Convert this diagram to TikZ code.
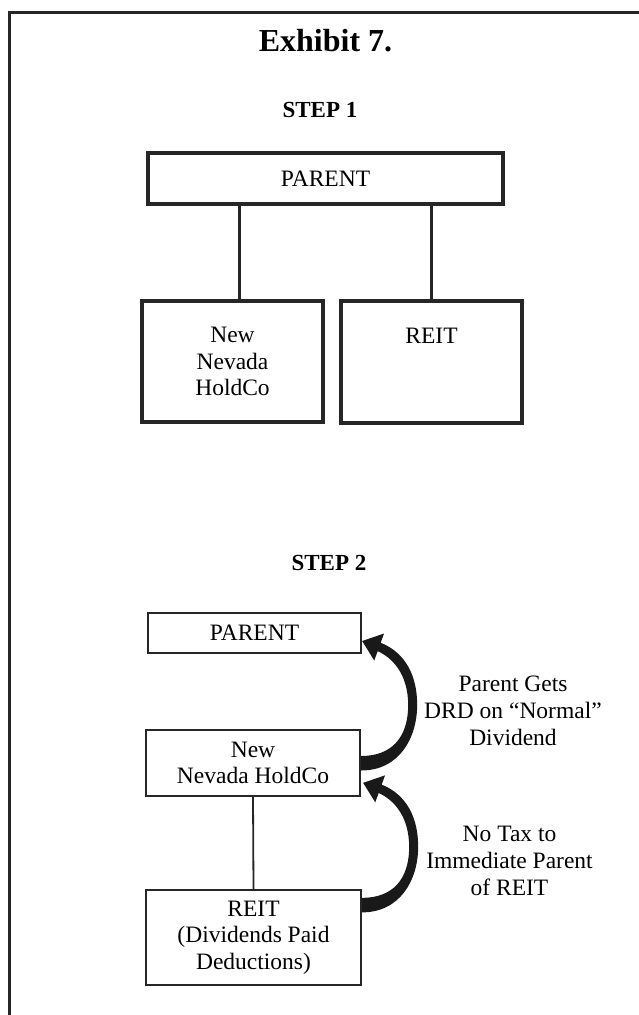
\documentclass[tikz,border=0pt]{standalone}
\usepackage{fontspec}
\setmainfont{Liberation Serif}
\newcommand{\bodyfont}{\fontsize{23.5}{26.7}\selectfont}
\tikzset{
  box/.style      = {shape=rectangle, draw=black!85, align=center,
                     inner sep=0pt, font=\bodyfont},
  bigbox/.style   = {box, line width=3.1pt},
  smallbox/.style = {box, line width=2.3pt},
  stephead/.style = {font=\fontsize{23}{26}\selectfont\bfseries},
  note/.style     = {align=center, font=\bodyfont},
  swoosh/.pic     = {
    \fill[black!90] (0,7.5) .. controls (38,7.5) and (56,-25) .. (56,-58)
      .. controls (56,-95) and (38,-113) .. (19.5,-120.2)
      -- (22.9,-129.5) -- (1,-122) -- (13.1,-102.5) -- (16.5,-111.8)
      .. controls (30,-106) and (47,-90) .. (47,-58)
      .. controls (47,-25) and (30,-7) .. (0,-7) -- cycle;
  }
}

\begin{document}
\begin{tikzpicture}[x=1pt, y=-1pt]
  \useasboundingbox (0,0) rectangle (639,1015);
  \clip (0,0) rectangle (639,1015);
  \draw[line width=3pt, black!85] (9,1040) |- (660,12);

  \node[font=\fontsize{32}{36}\selectfont\bfseries] (title) at (325.5,41) {Exhibit 7.};

  % step 1
  \node[stephead] (step1) at (320,110) {STEP 1};
  \node[bigbox, minimum width=355, minimum height=51] (parent1) at (325.5,178.5) {PARENT};
  \node[bigbox, minimum width=181, minimum height=121] (nnh1) at (232.5,361.5) {New\\Nevada\\HoldCo};
  \node[bigbox, minimum width=181, minimum height=122] (reit1) at (431.5,362) {REIT\\~\\~};
  \draw[line width=3pt, black!85] ([xshift=6.5pt]nnh1.north) -- ([xshift=6.5pt]nnh1.north |- parent1.south);
  \draw[line width=3pt, black!85] (reit1.north) -- (reit1.north |- parent1.south);

  % step 2
  \node[stephead] (step2) at (329,563) {STEP 2};
  \node[smallbox, minimum width=213, minimum height=40] (parent2) at (254.5,633) {PARENT};
  \node[smallbox, minimum width=214, minimum height=66] (nnh2) at (253,763) {New\\Nevada HoldCo};
  \node[smallbox, minimum width=215, minimum height=95] (reit2) at (253.5,937.5) {REIT\\(Dividends Paid\\Deductions)};
  \draw[line width=1.8pt, black!85] (nnh2.south) -- (reit2.north);

  \pic at (nnh2.east) {swoosh};
  \pic at ([yshift=-16pt]reit2.north east) {swoosh};

  \node[note] (note1) at (513,711) {Parent Gets\\DRD on “Normal”\\Dividend};
  \node[note] (note2) at (509.5,861) {No Tax to\\Immediate Parent\\of REIT};
\end{tikzpicture}
\end{document}
